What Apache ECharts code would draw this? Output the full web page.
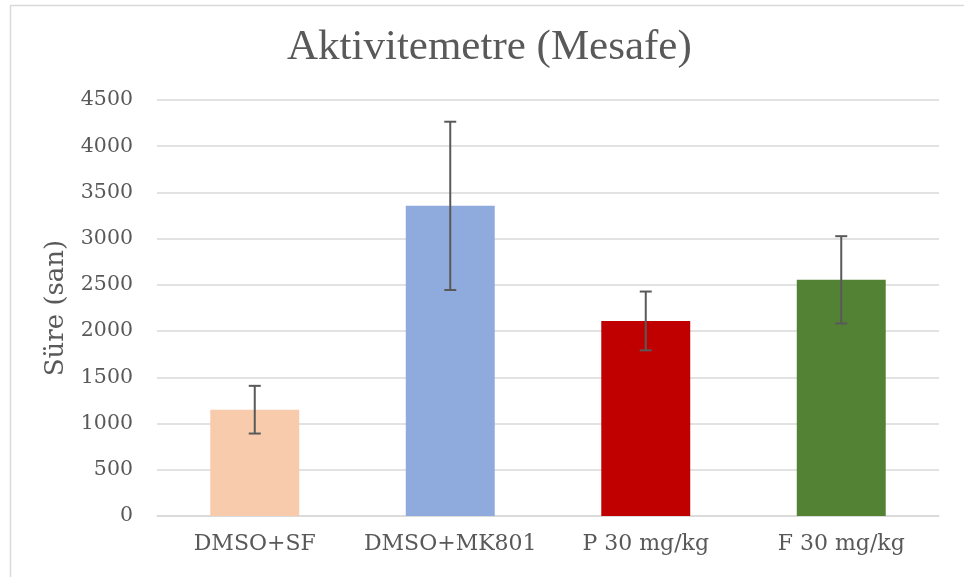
<!DOCTYPE html>
<html>
<head>
<meta charset="utf-8">
<script src="https://cdn.jsdelivr.net/npm/echarts@6/dist/echarts.min.js"></script>
<style>html,body{margin:0;padding:0;background:#fff}#c{width:964px;height:577px}</style>
</head>
<body>
<div id="c"></div>
<script>
var categories = ['DMSO+SF', 'DMSO+MK801', 'P 30 mg/kg', 'F 30 mg/kg'];
var means = [1150, 3355, 2110, 2555];
var errors = [258, 910, 318, 472];
var barColors = ['#F8CBAD', '#8FAADC', '#C00000', '#548235'];
var yTicks = { min: 0, max: 4500, interval: 500 };

var FONT = '"DejaVu Serif", serif';
var TFONT = '"Liberation Serif", serif';
var chart = echarts.init(document.getElementById('c'));
var errData = categories.map(function (c, i) { return [i, means[i] - errors[i], means[i] + errors[i]]; });

chart.setOption({
  animation: false,
  backgroundColor: '#fff',
  graphic: [{
    type: 'rect', left: 8, top: 3, shape: { width: 970, height: 590 },
    style: { fill: 'none', stroke: '#D9D9D9', lineWidth: 1.5 }, silent: true
  }],
  title: {
    text: 'Aktivitemetre (Mesafe)', left: 287, top: 26, padding: 0,
    textStyle: { fontFamily: TFONT, fontSize: 43, fontWeight: 'normal', color: '#595959' }
  },
  grid: { left: 157, right: 25, top: 100, bottom: 61 },
  xAxis: {
    type: 'category', data: categories,
    axisLine: { show: true, lineStyle: { color: '#D9D9D9', width: 1.5 } },
    axisTick: { show: false },
    axisLabel: { fontFamily: FONT, fontSize: 22, color: '#595959', margin: 17,
      interval: 0, hideOverlap: false }
  },
  yAxis: {
    type: 'value', min: yTicks.min, max: yTicks.max, interval: yTicks.interval,
    name: 'Süre (san)', nameLocation: 'middle', nameGap: 88,
    nameTextStyle: { fontFamily: FONT, fontSize: 26, color: '#595959' },
    axisLine: { show: false }, axisTick: { show: false },
    axisLabel: { fontFamily: FONT, fontSize: 20.5, color: '#595959', margin: 24,
      formatter: function (v) { return String(v); } },
    splitLine: { lineStyle: { color: '#D9D9D9', width: 1.5 } }
  },
  series: [{
    type: 'bar', barWidth: '45.5%',
    data: means.map(function (v, i) { return { value: v, itemStyle: { color: barColors[i] } }; }),
    z: 2
  }, {
    type: 'custom', z: 3,
    data: errData,
    renderItem: function (params, api) {
      var x = api.value(0);
      var lo = api.coord([x, api.value(1)]);
      var hi = api.coord([x, api.value(2)]);
      var hw = 6;
      var st = { stroke: '#595959', lineWidth: 2, fill: 'none' };
      return { type: 'group', children: [
        { type: 'line', shape: { x1: lo[0], y1: lo[1], x2: hi[0], y2: hi[1] }, style: st },
        { type: 'line', shape: { x1: lo[0] - hw, y1: lo[1], x2: lo[0] + hw, y2: lo[1] }, style: st },
        { type: 'line', shape: { x1: hi[0] - hw, y1: hi[1], x2: hi[0] + hw, y2: hi[1] }, style: st }
      ]};
    }
  }]
});
</script>
</body>
</html>
